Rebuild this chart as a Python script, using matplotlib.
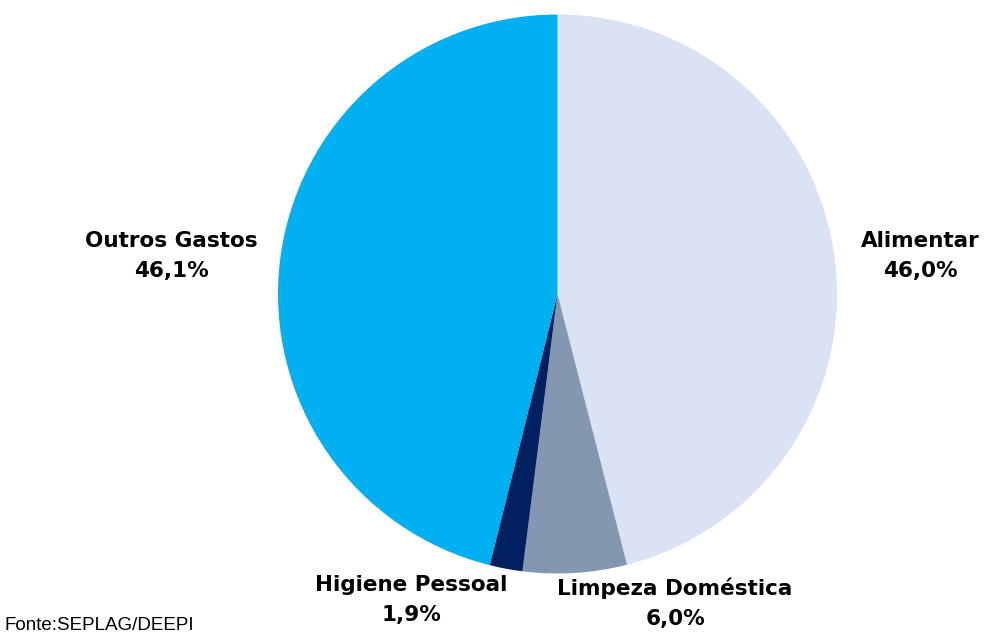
import matplotlib
matplotlib.use("Agg")
import matplotlib.pyplot as plt

categories = ["Alimentar", "Limpeza Doméstica", "Higiene Pessoal", "Outros Gastos"]
values = [46.0, 6.0, 1.9, 46.1]
value_labels = ["46,0%", "6,0%", "1,9%", "46,1%"]
colors = ["#DAE3F3", "#8497B0", "#002060", "#00B0F0"]

W, H = 984, 635
fig = plt.figure(figsize=(W / 100, H / 100), dpi=100)
ax = fig.add_axes([0, 0, 1, 1])

ax.pie(values, colors=colors, startangle=90, counterclock=False,
       center=(557.5, H - 294), radius=279.5, frame=True,
       wedgeprops=dict(linewidth=0))
ax.set_xlim(0, W)
ax.set_ylim(0, H)
ax.set_aspect("equal")
ax.axis("off")

label_pos = [(920, 256), (675, 603), (411, 600), (171, 256)]
for cat, lab, (x, y) in zip(categories, value_labels, label_pos):
    ax.text(x, H - y, f"{cat}\n{lab}", ha="center", va="center",
            fontsize=15.5, fontweight="bold", family=["DejaVu Sans"],
            linespacing=1.6, color="#000000")

ax.text(5, H - 626, "Fonte:SEPLAG/DEEPI", ha="left", va="center",
        fontsize=13.5, family=["Liberation Sans Narrow", "Liberation Sans"], color="#000000")

fig.savefig("out.png", dpi=100)
